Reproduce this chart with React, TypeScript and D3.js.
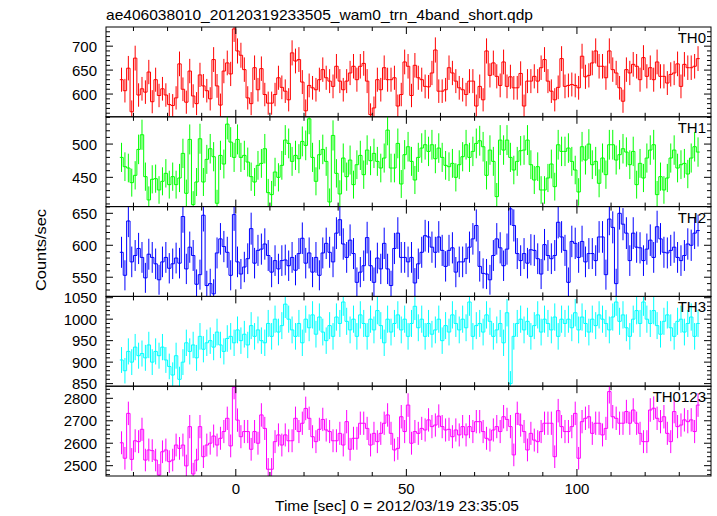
import React from 'react';
import * as d3 from 'd3';

// ---- data (1-s bins starting at t = -34 s) ----
const binStart = -34;

const th0Values = [
  630, 607, 654, 563, 675, 598, 611, 604, 646, 584,
  630, 597, 611, 598, 578, 576, 592, 663, 610, 583,
  648, 596, 580, 640, 617, 607, 590, 672, 617, 577,
  648, 665, 642, 736, 690, 681, 651, 592, 580, 655,
  609, 653, 599, 581, 581, 599, 634, 614, 606, 588,
  686, 669, 672, 625, 565, 618, 613, 609, 630, 651,
  634, 627, 616, 658, 627, 609, 627, 644, 658, 630,
  658, 664, 627, 557, 571, 630, 609, 655, 630, 630,
  634, 575, 599, 667, 658, 597, 660, 634, 630, 616,
  615, 644, 692, 606, 606, 609, 655, 644, 627, 613,
  609, 599, 627, 627, 575, 616, 588, 690, 639, 665,
  637, 618, 667, 616, 636, 613, 613, 643, 575, 627,
  627, 637, 627, 655, 672, 627, 606, 588, 614, 674,
  616, 618, 620, 618, 613, 679, 636, 639, 665, 690,
  658, 658, 634, 690, 651, 644, 613, 585, 651, 644,
  662, 658, 630, 676, 637, 655, 630, 667, 637, 637,
  623, 641, 644, 663, 616, 662, 655, 655, 658, 674,
];

const th1Values = [
  480, 466, 464, 442, 453, 492, 514, 451, 416, 447,
  448, 431, 444, 456, 439, 451, 439, 449, 486, 426,
  507, 409, 443, 508, 443, 477, 493, 481, 411, 483,
  470, 530, 503, 480, 507, 480, 483, 473, 451, 443,
  468, 471, 493, 427, 424, 458, 450, 468, 506, 501,
  474, 483, 478, 504, 498, 538, 480, 444, 484, 492,
  474, 413, 513, 456, 425, 479, 451, 476, 439, 469,
  483, 454, 491, 475, 486, 474, 464, 479, 521, 464,
  464, 501, 440, 484, 496, 474, 446, 480, 494, 499,
  489, 499, 478, 494, 480, 468, 466, 471, 450, 469,
  481, 499, 480, 489, 501, 505, 496, 453, 491, 474,
  421, 506, 491, 506, 480, 461, 474, 490, 491, 506,
  469, 446, 466, 431, 431, 449, 470, 436, 499, 489,
  489, 494, 474, 461, 428, 496, 476, 500, 469, 474,
  441, 479, 454, 499, 499, 476, 484, 493, 488, 469,
  489, 439, 471, 449, 479, 491, 499, 424, 451, 431,
  449, 479, 491, 464, 469, 471, 455, 479, 496, 488,
];

const th2Values = [
  589, 553, 638, 574, 584, 595, 581, 549, 586, 581,
  571, 546, 574, 581, 564, 571, 580, 572, 645, 563,
  597, 584, 539, 554, 647, 537, 540, 524, 588, 610,
  598, 589, 553, 648, 574, 555, 566, 579, 626, 572,
  592, 594, 602, 584, 558, 576, 563, 576, 577, 568,
  581, 561, 587, 611, 572, 588, 558, 581, 553, 588,
  603, 589, 574, 619, 640, 602, 581, 608, 587, 542,
  558, 568, 612, 568, 542, 580, 563, 603, 563, 537,
  595, 619, 581, 581, 574, 581, 541, 571, 589, 615,
  613, 597, 589, 613, 592, 567, 592, 596, 558, 574,
  574, 579, 597, 610, 631, 567, 556, 555, 546, 584,
  610, 596, 568, 594, 657, 631, 587, 576, 587, 572,
  593, 592, 579, 555, 601, 584, 579, 584, 636, 613,
  592, 542, 606, 603, 581, 606, 574, 587, 587, 576,
  613, 613, 554, 641, 628, 540, 650, 633, 619, 576,
  619, 597, 596, 576, 594, 608, 581, 629, 610, 589,
  588, 592, 597, 581, 576, 584, 602, 600, 619, 623,
];

const th3Values = [
  905, 880, 925, 900, 935, 915, 920, 910, 940, 900,
  925, 915, 935, 905, 890, 870, 915, 860, 900, 945,
  925, 940, 910, 960, 930, 945, 950, 935, 970, 940,
  925, 955, 960, 945, 975, 950, 965, 940, 985, 960,
  975, 950, 945, 990, 960, 1000, 970, 985, 1035, 1000,
  975, 960, 990, 945, 1000, 980, 1010, 965, 1005, 970,
  950, 985, 960, 1005, 990, 1040, 995, 975, 1000, 960,
  1010, 990, 960, 1000, 975, 1020, 985, 945, 1000, 970,
  990, 1010, 975, 1000, 960, 990, 1030, 980, 1000, 960,
  990, 965, 975, 1000, 950, 985, 970, 1010, 990, 975,
  1000, 980, 1040, 960, 985, 990, 970, 1010, 995, 960,
  975, 990, 945, 1015, 850, 960, 990, 1000, 975, 995,
  960, 985, 1010, 970, 1000, 990, 975, 1005, 960, 1000,
  990, 1000, 980, 1015, 975, 1005, 990, 970, 1000, 985,
  1010, 1000, 990, 975, 1005, 1040, 995, 1010, 980, 960,
  1000, 1020, 990, 1040, 1000, 990, 1020, 985, 965, 995,
  1010, 980, 960, 995, 1000, 970, 990, 1005, 960, 990,
];

const th0123Values = [
  2602, 2533, 2733, 2528, 2611, 2607, 2662, 2525, 2570, 2567,
  2525, 2458, 2562, 2570, 2518, 2525, 2592, 2577, 2592, 2499,
  2674, 2463, 2525, 2674, 2540, 2592, 2600, 2632, 2592, 2622,
  2652, 2711, 2588, 2849, 2703, 2629, 2652, 2652, 2573, 2652,
  2600, 2726, 2666, 2484, 2484, 2607, 2637, 2592, 2637, 2611,
  2611, 2711, 2652, 2689, 2755, 2711, 2629, 2607, 2662, 2706,
  2659, 2652, 2611, 2611, 2644, 2592, 2696, 2573, 2622, 2622,
  2689, 2689, 2666, 2592, 2644, 2607, 2644, 2689, 2726, 2644,
  2570, 2577, 2718, 2652, 2770, 2600, 2652, 2644, 2666, 2659,
  2704, 2674, 2681, 2721, 2674, 2659, 2662, 2629, 2659, 2637,
  2674, 2637, 2674, 2652, 2696, 2696, 2652, 2622, 2614, 2659,
  2674, 2652, 2718, 2706, 2674, 2548, 2733, 2681, 2652, 2570,
  2644, 2614, 2607, 2652, 2689, 2689, 2689, 2540, 2745, 2674,
  2652, 2652, 2674, 2733, 2533, 2696, 2711, 2718, 2644, 2689,
  2689, 2637, 2666, 2830, 2718, 2711, 2689, 2689, 2741, 2689,
  2748, 2689, 2644, 2607, 2607, 2748, 2756, 2711, 2696, 2718,
  2644, 2607, 2741, 2674, 2681, 2704, 2696, 2704, 2652, 2770,
];

const panelLabels = ['TH0', 'TH1', 'TH2', 'TH3', 'TH0123'];
const panelValues = [th0Values, th1Values, th2Values, th3Values, th0123Values];
const panelColors = ['#ff0000', '#00ff00', '#0000ff', '#00ffff', '#ff00ff'];
const panelDomains: [number, number][] = [
  [552.5, 740],
  [406, 541],
  [520, 660.5],
  [844, 1053],
  [2454, 2854],
];
const panelTickLabels = [
  [600, 650, 700],
  [450, 500],
  [550, 600, 650],
  [850, 900, 950, 1000, 1050],
  [2500, 2600, 2700, 2800],
];
const panelMinorStep = [10, 10, 10, 10, 20];
const xTickLabels = [0, 50, 100];

const titleText = 'ae406038010_20120319233505_wam0_trn_4band_short.qdp';
const xTitle = 'Time [sec] 0 = 2012/03/19 23:35:05';
const yTitle = 'Counts/sec';

// ---- layout ----
const W = 717;
const H = 516;
const L = 106;
const R = 711;
const TOP = 27;
const BOT = 476;
const FONT = '"Liberation Sans", Arial, Helvetica, sans-serif';
const FS = 15;

export default function App() {
  const x = d3.scaleLinear().domain([-38.05, 139.3]).range([L, R]);
  const panelH = (BOT - TOP) / panelLabels.length;
  const xMinor = d3.range(-30, 140, 10);

  return (
    <svg
      width={W}
      height={H}
      style={{ position: 'absolute', left: 0, top: 0, background: '#fff' }}
      fontFamily={FONT}
    >
      <rect x={0} y={0} width={W} height={H} fill="#fff" />
      <text x={106} y={20} fontSize={FS} textLength={427} lengthAdjust="spacingAndGlyphs">
        {titleText}
      </text>
      {panelLabels.map((lab, p) => {
        const y0 = TOP + p * panelH;
        const y1 = y0 + panelH;
        const y = d3.scaleLinear().domain(panelDomains[p]).range([y1, y0]);
        const vals = panelValues[p];
        const pts: [number, number][] = vals.map((v, i) => [binStart + i, v]);
        pts.push([binStart + vals.length, vals[vals.length - 1]]);
        const line = d3
          .line<[number, number]>()
          .x((d) => x(d[0]))
          .y((d) => y(d[1]))
          .curve(d3.curveStepAfter);
        const [dmin, dmax] = panelDomains[p];
        const minorStep = panelMinorStep[p];
        const yMinor = d3.range(Math.ceil(dmin / minorStep) * minorStep, dmax, minorStep);
        const majors = panelTickLabels[p];
        const clipId = `clip${p}`;
        return (
          <g key={lab}>
            <clipPath id={clipId}>
              <rect x={L} y={y0} width={R - L} height={panelH} />
            </clipPath>
            <g clipPath={`url(#${clipId})`} stroke={panelColors[p]} fill="none" strokeWidth={1}>
              {vals.map((v, i) => {
                const e = Math.sqrt(v);
                const cx = x(binStart + i + 0.5);
                return <line key={i} x1={cx} x2={cx} y1={y(v - e)} y2={y(v + e)} />;
              })}
              <path d={line(pts) || ''} />
            </g>
            <g stroke="#000" strokeWidth={1}>
              {xMinor.map((t) => {
                const len = t % 50 === 0 ? 7 : 4;
                const xx = x(t);
                return (
                  <g key={t}>
                    <line x1={xx} x2={xx} y1={y0} y2={y0 + len} />
                    <line x1={xx} x2={xx} y1={y1} y2={y1 - len} />
                  </g>
                );
              })}
              {yMinor.map((v) => {
                const len = majors.includes(v) ? 7 : 4;
                const yy = y(v);
                return (
                  <g key={v}>
                    <line x1={L} x2={L + len} y1={yy} y2={yy} />
                    <line x1={R} x2={R - len} y1={yy} y2={yy} />
                  </g>
                );
              })}
              <rect x={L} y={y0} width={R - L} height={panelH} fill="none" />
            </g>
            {majors.map((v) => (
              <text key={v} x={97} y={y(v) + 5.5} fontSize={FS} textAnchor="end" fill="#000">
                {v}
              </text>
            ))}
            <text x={706} y={y0 + 16} fontSize={FS} textAnchor="end" fill="#000">
              {lab}
            </text>
          </g>
        );
      })}
      {xTickLabels.map((t) => (
        <text key={t} x={x(t)} y={494} fontSize={FS} textAnchor="middle" fill="#000">
          {t}
        </text>
      ))}
      <text x={397} y={511} fontSize={FS} textAnchor="middle" textLength={244} lengthAdjust="spacingAndGlyphs">
        {xTitle}
      </text>
      <text
        transform="translate(46,250) rotate(-90)"
        fontSize={FS}
        textAnchor="middle"
        textLength={82}
        lengthAdjust="spacingAndGlyphs"
      >
        {yTitle}
      </text>
    </svg>
  );
}
